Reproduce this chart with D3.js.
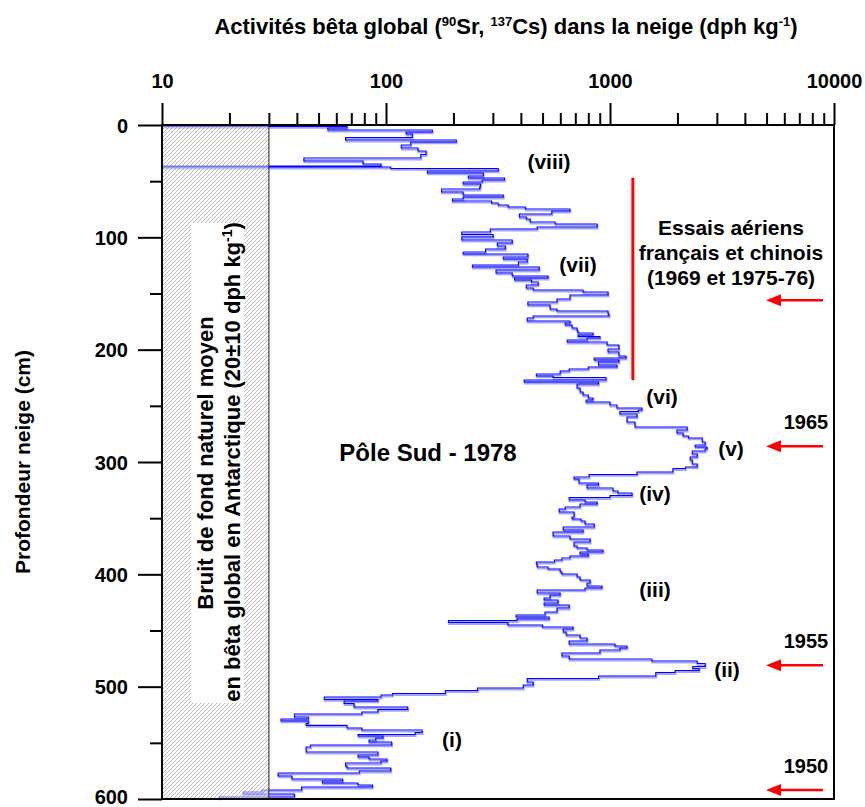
<!DOCTYPE html>
<html>
<head>
<meta charset="utf-8">
<script src="https://cdn.jsdelivr.net/npm/d3@7"></script>
<style>
  body { margin: 0; background: #fff; }
  text { font-family: "Liberation Sans", Arial, sans-serif; font-weight: bold; }
</style>
</head>
<body>
<div id="chart"></div>
<script>
// depth of the top of each snow sample (cm) and its global beta activity (dph/kg)
const depthTop = [
  0, 1.3, 2.7, 4.5, 6.2, 8.0, 11.1, 13.4, 15.1, 17.8, 20.5, 23.1, 26.3, 29.4, 32.0, 34.7, 36.5, 37.4, 38.7, 40.9,
  42.7, 45.4, 47.2, 49.0, 50.7, 52.5, 55.2, 57.0, 59.6, 62.3, 64.1, 65.9, 67.7, 69.4, 71.2, 73.0, 74.8, 76.6, 79.2, 81.9,
  83.7, 86.4, 88.1, 90.8, 92.6, 95.3, 97.5, 99.7, 102.4, 105.0, 107.7, 110.4, 113.1, 114.8, 117.5, 119.3, 122.0, 124.6, 126.4, 129.1,
  131.7, 134.4, 136.2, 138.0, 139.8, 142.4, 145.1, 146.9, 148.7, 151.3, 154.9, 157.6, 160.2, 163.8, 165.6, 168.2, 170.0, 171.8, 174.5, 176.3,
  178.0, 180.7, 183.4, 185.2, 186.9, 188.3, 189.6, 191.4, 193.2, 195.8, 199.4, 202.1, 205.6, 207.4, 209.2, 211.0, 213.6, 215.4, 217.2, 219.0,
  221.7, 223.4, 224.8, 227.0, 228.8, 230.6, 234.1, 237.7, 240.4, 243.0, 244.8, 246.6, 249.3, 251.9, 253.7, 255.0, 257.3, 259.9, 264.4, 268.8,
  271.5, 274.2, 276.8, 278.6, 282.2, 284.9, 286.6, 288.4, 290.2, 292.9, 295.5, 298.2, 301.8, 304.4, 305.8, 308.9, 311.1, 313.4, 315.1, 318.7,
  320.5, 323.2, 325.8, 327.6, 329.8, 331.6, 333.8, 335.6, 337.4, 340.1, 341.8, 344.5, 349.0, 350.7, 352.5, 355.2, 357.9, 360.5, 362.3, 365.9,
  368.5, 371.2, 374.8, 376.5, 378.3, 380.1, 381.9, 383.7, 385.5, 387.2, 389.0, 390.8, 393.5, 395.2, 397.9, 399.7, 402.4, 405.0, 407.7, 410.4,
  412.2, 413.9, 416.6, 418.4, 421.1, 422.8, 425.5, 427.3, 430.0, 433.5, 436.2, 438.0, 439.8, 441.1, 442.9, 445.1, 446.9, 448.7, 451.3, 454.0,
  456.7, 459.3, 462.0, 463.8, 465.6, 467.4, 470.0, 472.7, 475.4, 477.2, 479.4, 482.1, 483.8, 485.6, 487.4, 490.5, 492.7, 495.8, 498.5, 501.2,
  503.4, 506.1, 507.4, 509.2, 511.4, 512.7, 515.0, 518.1, 520.3, 522.5, 524.3, 527.0, 528.8, 530.5, 532.8, 534.5, 536.8, 538.6, 540.8, 542.6,
  543.9, 545.7, 547.5, 549.2, 551.9, 553.7, 558.2, 560.8, 562.6, 564.4, 566.2, 568.0, 570.6, 572.4, 575.1, 576.8, 579.5, 582.2, 584.0, 585.7,
  587.5, 589.3, 592.0, 593.8, 595.5, 598.2
];
const activity = [
  10, 67, 55, 161, 123, 131, 66, 206, 129, 117, 139, 151, 143, 43, 79, 95, 10, 105, 317, 153,
  272, 233, 338, 269, 221, 264, 262, 177, 221, 334, 221, 198, 296, 317, 351, 419, 663, 550, 394, 423,
  440, 569, 876, 473, 292, 218, 301, 218, 366, 314, 341, 278, 221, 430, 334, 427, 390, 243, 483, 310,
  366, 529, 375, 446, 478, 423, 454, 758, 980, 663, 580, 430, 540, 580, 980, 990, 454, 427, 663, 631,
  677, 713, 720, 840, 720, 902, 790, 644, 970, 1096, 980, 1096, 1179, 850, 1096, 888, 1074, 800, 657, 599,
  469, 557, 960, 414, 888, 713, 735, 758, 800, 840, 782, 1000, 1074, 1388, 1340, 1107, 1320, 1191, 1293, 2210,
  1990, 2120, 2240, 2580, 2660, 2400, 2710, 2660, 2330, 2450, 2280, 2330, 2450, 2170, 1910, 1320, 807, 691, 727, 888,
  790, 1031, 1085, 1254, 1000, 657, 774, 876, 735, 631, 593, 691, 677, 743, 774, 850, 618, 758, 557, 663,
  815, 691, 713, 790, 930, 735, 800, 663, 610, 565, 469, 473, 529, 599, 610, 713, 735, 815, 790, 920,
  774, 473, 599, 540, 508, 586, 508, 657, 580, 513, 381, 535, 385, 190, 350, 499, 684, 618, 637, 735,
  790, 657, 1052, 1191, 1107, 902, 610, 657, 1537, 2450, 2660, 2340, 2500, 1950, 1601, 890, 427, 454, 410, 256,
  184, 107, 95, 53, 92, 65, 72, 125, 92, 78, 39, 45, 34, 45, 44, 67, 78, 145, 135, 75,
  97, 90, 84, 106, 46, 44, 92, 75, 84, 101, 95, 66, 67, 105, 76, 33, 38, 64, 52, 75,
  87, 42, 28, 23, 39, 18
];
const coreBottom = 600;

const xDecades = [10, 100, 1000, 10000];
const xMinor = [20, 30, 40, 50, 60, 70, 80, 90, 200, 300, 400, 500, 600, 700, 800, 900,
  2000, 3000, 4000, 5000, 6000, 7000, 8000, 9000];
const yMajor = [0, 100, 200, 300, 400, 500, 600];
const yMinor = [50, 150, 250, 350, 450, 550];

const backgroundMax = 30;               // 20 ± 10 dph/kg
const frenchChineseTests = [47, 227];   // depth span of the red bar (cm)
const testsActivity = 1265;
const arrowDepths = [156, 286, 481, 592];
const arrowYears = ['', '1965', '1955', '1950'];

const width = 865, height = 807;
const margin = {top: 125, right: 31, bottom: 8, left: 162};

const svg = d3.select('#chart').append('svg')
  .attr('width', width)
  .attr('height', height);

const x = d3.scaleLog().domain([10, 10000]).range([margin.left, width - margin.right]);
const y = d3.scaleLinear().domain([0, 600]).range([margin.top, height - margin.bottom]);

// hatch pattern for the natural background band
const defs = svg.append('defs');
const pat = defs.append('pattern')
  .attr('id', 'hatch')
  .attr('patternUnits', 'userSpaceOnUse')
  .attr('width', 4).attr('height', 4);
pat.append('rect').attr('width', 4).attr('height', 4).attr('fill', 'rgba(255,255,255,0.45)');
pat.append('path')
  .attr('d', 'M-1,1 L1,-1 M0,4 L4,0 M3,5 L5,3')
  .attr('stroke', '#8a8a8a')
  .attr('stroke-width', 0.6);

// data trace
const pts = depthTop.map((d, i) => [activity[i], d]);
pts.push([activity[activity.length - 1], coreBottom]);

const line = d3.line()
  .x(d => x(d[0]))
  .y(d => y(d[1]))
  .curve(d3.curveStepBefore);

svg.append('path')
  .datum(pts)
  .attr('d', line)
  .attr('transform', 'translate(0.5,1.5)')
  .attr('fill', 'none')
  .attr('stroke', '#a4a4f6')
  .attr('stroke-width', 1.8);

svg.append('path')
  .datum(pts)
  .attr('d', line)
  .attr('fill', 'none')
  .attr('stroke', '#0000ff')
  .attr('stroke-width', 1.1);

// background band
svg.append('rect')
  .attr('x', x(10)).attr('y', y(0))
  .attr('width', x(backgroundMax) - x(10))
  .attr('height', y(600) - y(0))
  .attr('fill', 'url(#hatch)');
svg.append('line')
  .attr('x1', x(backgroundMax)).attr('x2', x(backgroundMax))
  .attr('y1', y(0)).attr('y2', y(600))
  .attr('stroke', '#222').attr('stroke-width', 1);

svg.append('rect')
  .attr('x', 191).attr('y', 223)
  .attr('width', 53).attr('height', 480)
  .attr('fill', '#fff');

const bg = svg.append('text')
  .attr('transform', 'rotate(-90)')
  .attr('text-anchor', 'middle')
  .style('font-size', '22px');
bg.append('tspan').attr('x', -463).attr('y', 213).text('Bruit de fond naturel moyen');
const bg2 = bg.append('tspan').attr('x', -462).attr('y', 240);
bg2.append('tspan').text('en bêta global en Antarctique (20±10 dph kg');
bg2.append('tspan').attr('dy', -8).style('font-size', '14px').text('-1');
bg2.append('tspan').attr('dy', 8).text(')');

// axes (majors and minors in their own groups)
const fmt = d3.format('d');
const topMajor = svg.append('g').attr('transform', `translate(0,${margin.top})`)
  .call(d3.axisTop(x).tickValues(xDecades).tickSize(22).tickPadding(15).tickFormat(fmt));
svg.append('g').attr('transform', `translate(0,${margin.top})`)
  .call(d3.axisTop(x).tickValues(xMinor).tickSize(12).tickFormat(''));

const leftMajor = svg.append('g').attr('transform', `translate(${margin.left},0)`)
  .call(d3.axisLeft(y).tickValues(yMajor).tickSize(24).tickPadding(10));
svg.append('g').attr('transform', `translate(${margin.left},0)`)
  .call(d3.axisLeft(y).tickValues(yMinor).tickSize(12).tickFormat(''));

svg.selectAll('.domain').remove();
svg.selectAll('.tick line').attr('stroke', '#000').attr('stroke-width', 2);
svg.selectAll('.tick text')
  .attr('fill', '#000')
  .style('font-size', '20px')
  .style('font-family', '"Liberation Sans", Arial, sans-serif')
  .style('font-weight', 'bold');
topMajor.selectAll('.tick text').attr('dy', '0');
leftMajor.selectAll('.tick text').attr('dy', d => d === 600 ? '0.22em' : '0.35em');

// plot frame
svg.append('rect')
  .attr('x', x(10)).attr('y', y(0))
  .attr('width', x(10000) - x(10))
  .attr('height', y(600) - y(0))
  .attr('fill', 'none')
  .attr('stroke', '#000')
  .attr('stroke-width', 2);

// red annotations
svg.append('line')
  .attr('x1', x(testsActivity)).attr('x2', x(testsActivity))
  .attr('y1', y(frenchChineseTests[0])).attr('y2', y(frenchChineseTests[1]))
  .attr('stroke', '#ff0000').attr('stroke-width', 3);

arrowDepths.forEach((d, i) => {
  const yy = y(d);
  svg.append('line')
    .attr('x1', 823).attr('x2', 777)
    .attr('y1', yy).attr('y2', yy)
    .attr('stroke', '#ff0000').attr('stroke-width', 2.5);
  svg.append('path')
    .attr('d', `M766,${yy} L781,${yy - 6} L781,${yy + 6} Z`)
    .attr('fill', '#ff0000');
  if (arrowYears[i]) {
    svg.append('text')
      .attr('x', 806).attr('y', yy - 17)
      .attr('text-anchor', 'middle')
      .style('font-size', '20px')
      .text(arrowYears[i]);
  }
});

const essais = ['Essais aériens', 'français et chinois', '(1969 et 1975-76)'];
essais.forEach((t, i) => {
  svg.append('text')
    .attr('x', 731).attr('y', 235 + i * 25)
    .attr('text-anchor', 'middle')
    .style('font-size', '21px')
    .text(t);
});

const periods = [
  ['(viii)', 549, 162], ['(vii)', 578, 265], ['(vi)', 662, 397], ['(v)', 731, 449],
  ['(iv)', 655, 494], ['(iii)', 655, 590], ['(ii)', 727, 670], ['(i)', 452, 740]
];
periods.forEach(p => {
  svg.append('text')
    .attr('x', p[1]).attr('y', p[2] + 7)
    .attr('text-anchor', 'middle')
    .style('font-size', '21px')
    .text(p[0]);
});

svg.append('text')
  .attr('x', 428).attr('y', 461)
  .attr('text-anchor', 'middle')
  .style('font-size', '24px')
  .text('Pôle Sud - 1978');

svg.append('text')
  .attr('transform', 'translate(30,462) rotate(-90)')
  .attr('text-anchor', 'middle')
  .style('font-size', '21px')
  .text('Profondeur neige (cm)');

// top title with superscripts
const title = svg.append('text')
  .attr('x', 506).attr('y', 34)
  .attr('text-anchor', 'middle')
  .style('font-size', '22px');
title.append('tspan').text('Activités bêta global (');
title.append('tspan').attr('dy', -8).style('font-size', '13px').text('90');
title.append('tspan').attr('dy', 8).text('Sr, ');
title.append('tspan').attr('dy', -8).style('font-size', '13px').text('137');
title.append('tspan').attr('dy', 8).text('Cs) dans la neige (dph kg');
title.append('tspan').attr('dy', -8).style('font-size', '13px').text('-1');
title.append('tspan').attr('dy', 8).text(')');
</script>
</body>
</html>
